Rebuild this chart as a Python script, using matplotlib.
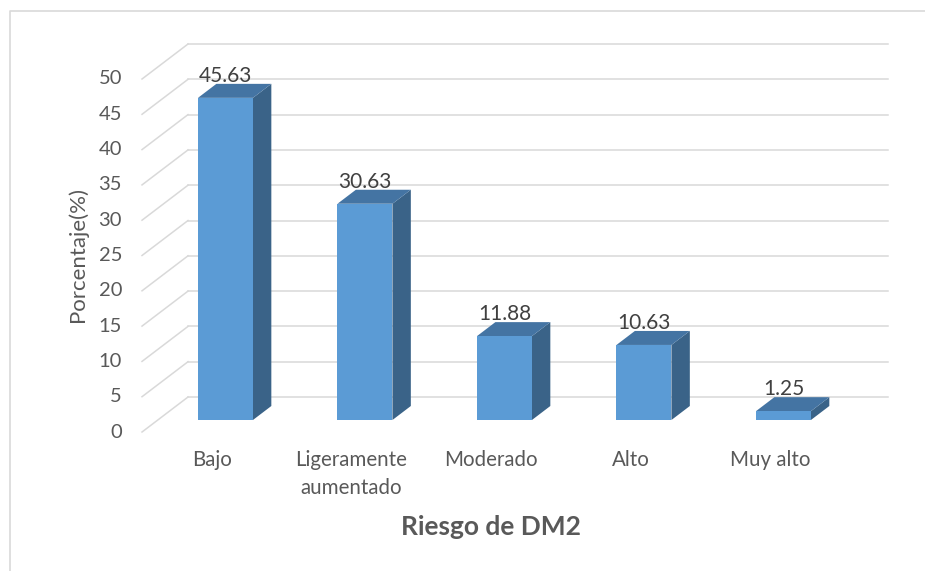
import matplotlib
matplotlib.use("Agg")
import matplotlib.pyplot as plt
import numpy as np
from matplotlib.patches import Polygon
from matplotlib.lines import Line2D
from matplotlib.transforms import IdentityTransform, offset_copy

# ------------------------------------------------------------
# Data
# ------------------------------------------------------------
categories = ["Bajo", "Ligeramente\naumentado", "Moderado", "Alto", "Muy alto"]
values = [45.63, 30.63, 11.88, 10.63, 1.25]
value_labels = ["45.63", "30.63", "11.88", "10.63", "1.25"]
y_ticks = [0, 5, 10, 15, 20, 25, 30, 35, 40, 45, 50]
y_label = "Porcentaje(%)"
x_label = "Riesgo de DM2"

# ------------------------------------------------------------
# Style
# ------------------------------------------------------------
FRONT = "#5B9BD5"
SIDE = "#3A6388"
TOP = "#4474A3"
GRID = "#D9D9D9"
TEXT = "#595959"
FONT = ["Lato", "DejaVu Sans"]

plt.rcParams.update({
    "font.family": FONT,
    "text.color": TEXT,
})

W, H = 925, 571
DEPTH = np.array([46.0, 35.0])   # full floor depth in pixels (right, up)
F_BAR = 0.343                    # depth of bar front plane
BAR_DEPTH = 0.40                 # bar depth as fraction of floor depth
BAR_WIDTH = 0.394

fig = plt.figure(figsize=(W / 100, H / 100), dpi=100)
ax = fig.add_axes([157.8 / W, 151 / H, 700 / W, 353 / H])
ax.set_xlim(-0.485, 4.533)
ax.set_ylim(0, 50)
ax.axis("off")

x = np.arange(len(categories))
x0, x1 = ax.get_xlim()


def disp(xv, v, f):
    """Data point on the bar plane moved to depth f (display pixels)."""
    p = ax.transData.transform((xv, v))
    return p + (f - F_BAR) * DEPTH


ident = IdentityTransform()

# back wall and left wall gridlines
for v in y_ticks:
    a, b = disp(x0, v, 1.0), disp(x1, v, 1.0)
    ax.add_line(Line2D([a[0], b[0]], [a[1], b[1]], color=GRID, lw=1.1,
                       transform=ident, clip_on=False, zorder=1))
    c = disp(x0, v, 0.0)
    ax.add_line(Line2D([c[0], a[0]], [c[1], a[1]], color=GRID, lw=1.1,
                       transform=ident, clip_on=False, zorder=1))

# bars: front faces
ax.bar(x, values, width=BAR_WIDTH, color=FRONT, zorder=3, clip_on=False)

# bars: side and top faces
fb = F_BAR + BAR_DEPTH
for xi, v in zip(x, values):
    l, r = xi - BAR_WIDTH / 2, xi + BAR_WIDTH / 2
    side = [disp(r, 0, F_BAR), disp(r, v, F_BAR), disp(r, v, fb), disp(r, 0, fb)]
    top = [disp(l, v, F_BAR), disp(r, v, F_BAR), disp(r, v, fb), disp(l, v, fb)]
    ax.add_patch(Polygon(side, closed=True, facecolor=SIDE, edgecolor="none",
                         transform=ident, clip_on=False, zorder=2))
    ax.add_patch(Polygon(top, closed=True, facecolor=TOP, edgecolor="none",
                         transform=ident, clip_on=False, zorder=2))

# value labels
lab_tr = offset_copy(ax.transData, fig, x=0, y=16, units="dots")
for xi, v, s in zip(x, values, value_labels):
    ax.text(xi, v, s, transform=lab_tr, ha="center", va="baseline",
            fontsize=15, color="#404040", zorder=5)

# category labels
cat_tr = offset_copy(ax.transData, fig, x=-13.5, y=-30, units="dots")
for xi, s in zip(x, categories):
    ax.text(xi, 0, s, transform=cat_tr, ha="center", va="top",
            fontsize=14.8, linespacing=1.5, multialignment="center")

# y tick labels (front plane)
tick_tr = offset_copy(ax.transData, fig, x=-35.8, y=-12, units="dots")
for v in y_ticks:
    ax.text(x0, v, str(v), transform=tick_tr, ha="right", va="center",
            fontsize=14.5)

# axis titles
fig.text(78 / W, 1 - 255 / H, y_label, rotation=90, ha="center", va="center",
         fontsize=16)
fig.text(491 / W, 1 - 527 / H, x_label, ha="center", va="center",
         fontsize=19, fontweight="bold")

# chart border (left and top visible)
fig.add_artist(Line2D([9.5 / W, 9.5 / W, 1.0], [0.0, 1 - 11 / H, 1 - 11 / H],
                      transform=fig.transFigure, color=GRID, lw=1.2))

fig.savefig("out.png", dpi=100)
